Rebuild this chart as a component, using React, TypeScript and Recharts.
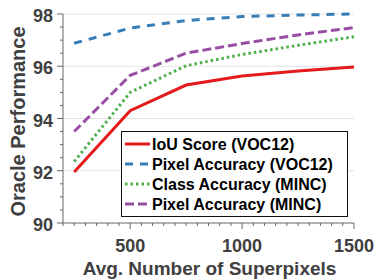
import React from 'react';
import { LineChart, Line, XAxis, YAxis, ReferenceLine, Legend } from 'recharts';

const superpixels = [250, 500, 750, 1000, 1250, 1500];
const iouVoc = [91.95, 94.3, 95.28, 95.63, 95.82, 95.97];
const pixelVoc = [96.88, 97.46, 97.75, 97.9, 97.96, 98.0];
const classMinc = [92.35, 95.0, 96.02, 96.45, 96.8, 97.13];
const pixelMinc = [93.5, 95.65, 96.5, 96.87, 97.2, 97.48];

const seriesNames = ['IoU Score (VOC12)', 'Pixel Accuracy (VOC12)', 'Class Accuracy (MINC)', 'Pixel Accuracy (MINC)'];

const xTicks = [200, 250, 300, 350, 400, 450, 500, 550, 600, 650, 700, 750, 800, 850, 900, 950, 1000, 1050, 1100, 1150, 1200, 1250, 1300, 1350, 1400, 1450, 1500];
const xMajor = [500, 1000, 1500];
const yTicks = [90, 90.5, 91, 91.5, 92, 92.5, 93, 93.5, 94, 94.5, 95, 95.5, 96, 96.5, 97, 97.5, 98];
const yMajor = [90, 92, 94, 96, 98];
const gridValues = [92, 94, 96, 98];

const data = superpixels.map((x, i) => ({
  x,
  iou: iouVoc[i],
  pvoc: pixelVoc[i],
  cminc: classMinc[i],
  pminc: pixelMinc[i],
}));

const FONT = '"Liberation Sans", Arial, sans-serif';
const AXIS = '#666';
const TXT = '#404040';

const XTick = (props: any) => {
  const { x, y, payload } = props;
  const major = xMajor.includes(payload.value);
  return (
    <g>
      <line x1={x} x2={x} y1={y} y2={y + (major ? 6 : 3)} stroke={AXIS} strokeWidth={1} />
      {major && (
        <text x={x} y={y + 29} textAnchor="middle" fontFamily={FONT} fontWeight="bold" fontSize={18} fill={TXT}>
          {payload.value}
        </text>
      )}
    </g>
  );
};

const YTick = (props: any) => {
  const { x, y, payload } = props;
  const major = yMajor.includes(payload.value);
  return (
    <g>
      <line x1={x} x2={x - (major ? 6 : 3)} y1={y} y2={y} stroke={AXIS} strokeWidth={1} />
      {major && (
        <text x={x - 10} y={y + 8} textAnchor="end" fontFamily={FONT} fontWeight="bold" fontSize={18} fill={TXT}>
          {payload.value}
        </text>
      )}
    </g>
  );
};

const LegendBox = (props: any) => {
  const payload = [...(props.payload || [])].sort(
    (a: any, b: any) => seriesNames.indexOf(a.value) - seriesNames.indexOf(b.value)
  );
  const W = 225;
  const H = 84;
  return (
    <svg width={W} height={H} style={{ display: 'block', overflow: 'visible' }}>
      {payload.map((p: any, i: number) => {
        const cy = 12 + i * 20;
        return (
          <g key={p.value}>
            <line
              x1={3}
              x2={28}
              y1={cy}
              y2={cy}
              stroke={p.color}
              strokeWidth={3}
              strokeDasharray={p.payload.strokeDasharray}
            />
            <text x={30} y={cy + 6} fontFamily={FONT} fontWeight="bold" fontSize={16} fill="#000">
              {p.value}
            </text>
          </g>
        );
      })}
    </svg>
  );
};

export default function App() {
  return (
    <div style={{ position: 'absolute', left: 0, top: 0, background: '#fff' }}>
      <LineChart width={379} height={279} data={data} margin={{ top: 14, right: 25, left: 0, bottom: 0 }}>
        {gridValues.map((v) => (
          <ReferenceLine key={v} y={v} stroke="#e3e3e3" strokeWidth={1.2} />
        ))}
        <XAxis
          dataKey="x"
          type="number"
          domain={[200, 1500]}
          ticks={xTicks}
          interval={0}
          tickSize={0}
          tickMargin={0}
          tickLine={false}
          tick={<XTick />}
          axisLine={{ stroke: AXIS, strokeWidth: 1 }}
          height={56}
          label={{
            content: (p: any) => {
              const vb = p.viewBox;
              return (
                <text
                  x={vb.x + vb.width / 2 + 1}
                  y={vb.y + 52}
                  textAnchor="middle"
                  fontFamily={FONT}
                  fontWeight="bold"
                  fontSize={19}
                  fill={TXT}
                >
                  Avg. Number of Superpixels
                </text>
              );
            },
          }}
        />
        <YAxis
          type="number"
          domain={[90, 98]}
          ticks={yTicks}
          interval={0}
          tickSize={0}
          tickMargin={0}
          tickLine={false}
          tick={<YTick />}
          axisLine={{ stroke: AXIS, strokeWidth: 1 }}
          width={63}
          label={{
            content: (p: any) => {
              const vb = p.viewBox;
              const cx = vb.x + 18;
              const cy = vb.y + vb.height / 2 + 3;
              return (
                <text
                  x={cx}
                  y={cy}
                  transform={`rotate(-90 ${cx} ${cy})`}
                  textAnchor="middle"
                  dominantBaseline="central"
                  fontFamily={FONT}
                  fontWeight="bold"
                  fontSize={20}
                  fill={TXT}
                >
                  Oracle Performance
                </text>
              );
            },
          }}
        />
        <Line dataKey="iou" name={seriesNames[0]} stroke="#e41a1c" strokeWidth={3} dot={false} isAnimationActive={false} />
        <Line dataKey="pvoc" name={seriesNames[1]} stroke="#377eb8" strokeWidth={3} strokeDasharray="8 7" dot={false} isAnimationActive={false} />
        <Line dataKey="cminc" name={seriesNames[2]} stroke="#4daf4a" strokeWidth={3} strokeDasharray="2.5 3" dot={false} isAnimationActive={false} />
        <Line dataKey="pminc" name={seriesNames[3]} stroke="#984ea3" strokeWidth={3} strokeDasharray="9 4" dot={false} isAnimationActive={false} />
        <Legend
          layout="vertical"
          align="center"
          verticalAlign="middle"
          content={<LegendBox />}
          wrapperStyle={{ left: 122, top: 132, width: 225, height: 84, outline: '1px solid #111', background: '#fff' }}
        />
      </LineChart>
    </div>
  );
}
